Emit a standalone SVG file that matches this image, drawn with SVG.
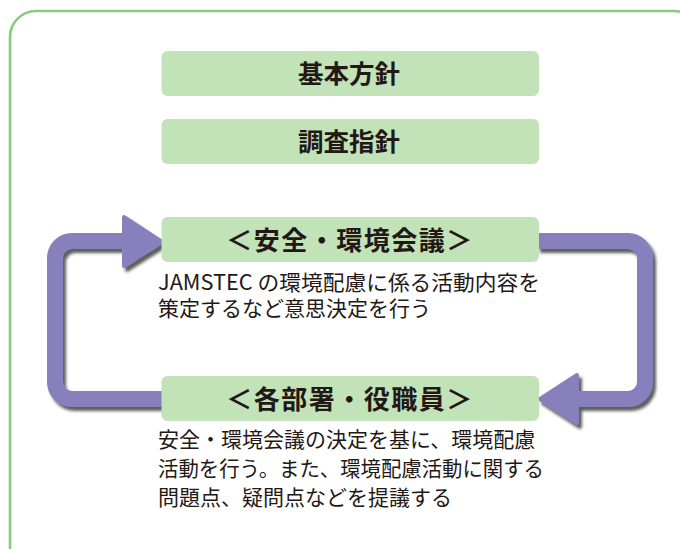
<svg xmlns="http://www.w3.org/2000/svg" width="680" height="549" viewBox="0 0 680 549">
<style>
.frame{fill:none;stroke:#86cd7b;stroke-width:2.6}
.box{fill:#c2e2b8}
.title{font-family:"Noto Sans CJK JP","Noto Sans",sans-serif;font-weight:bold;font-size:25.5px;fill:#231815;text-anchor:middle}
.title2{font-size:26px;letter-spacing:1.5px}
.body{font-family:"Noto Sans CJK JP","Noto Sans",sans-serif;font-size:21px;fill:#231815}
.band{fill:none;stroke:#8880bd;stroke-width:16}
.head{fill:#8880bd;stroke:#8880bd;stroke-width:4;stroke-linejoin:round}
</style>
<defs>
<filter id="sh" x="-20%" y="-20%" width="140%" height="140%">
<feDropShadow dx="3" dy="4" stdDeviation="1.6" flood-color="#2a2a2a" flood-opacity="0.75"/>
</filter>
</defs>
<rect class="frame" x="10" y="11" width="690" height="565" rx="26"/>
<g id="connectors">
<g id="arrow-left" filter="url(#sh)">
<path class="band" d="M163 399 H72 A17 17 0 0 1 55 382 V258 A17 17 0 0 1 72 241 H126"/>
<polygon class="head" points="124,217 162,242 124,266"/>
</g>
<g id="arrow-right" filter="url(#sh)">
<path class="band" d="M537 241 H628 A17 17 0 0 1 645 258 V382 A17 17 0 0 1 628 399 H575"/>
<polygon class="head" points="577,375 540,399 577,423"/>
</g>
</g>
<g id="kihon">
<rect class="box" x="161.5" y="51" width="377.5" height="45" rx="6"/>
<text class="title" x="349" y="83">基本方針</text>
</g>
<g id="chosa">
<rect class="box" x="161.5" y="119" width="377.5" height="45" rx="6"/>
<text class="title" x="349" y="151">調査指針</text>
</g>
<g id="kaigi">
<rect class="box" x="161.5" y="217" width="377.5" height="45" rx="6"/>
<text class="title title2" x="350" y="250">＜安全・環境会議＞</text>
<text class="body" x="158" y="290" textLength="382" lengthAdjust="spacingAndGlyphs">JAMSTEC の環境配慮に係る活動内容を</text>
<text class="body" x="158" y="316">策定するなど意思決定を行う</text>
</g>
<g id="busho">
<rect class="box" x="161.5" y="376" width="377.5" height="45" rx="6"/>
<text class="title title2" x="350" y="409">＜各部署・役職員＞</text>
<text class="body" x="158" y="447">安全・環境会議の決定を基に、環境配慮</text>
<text class="body" x="158" y="476" textLength="386" lengthAdjust="spacingAndGlyphs">活動を行う。また、環境配慮活動に関する</text>
<text class="body" x="158" y="505">問題点、疑問点などを提議する</text>
</g>
</svg>
